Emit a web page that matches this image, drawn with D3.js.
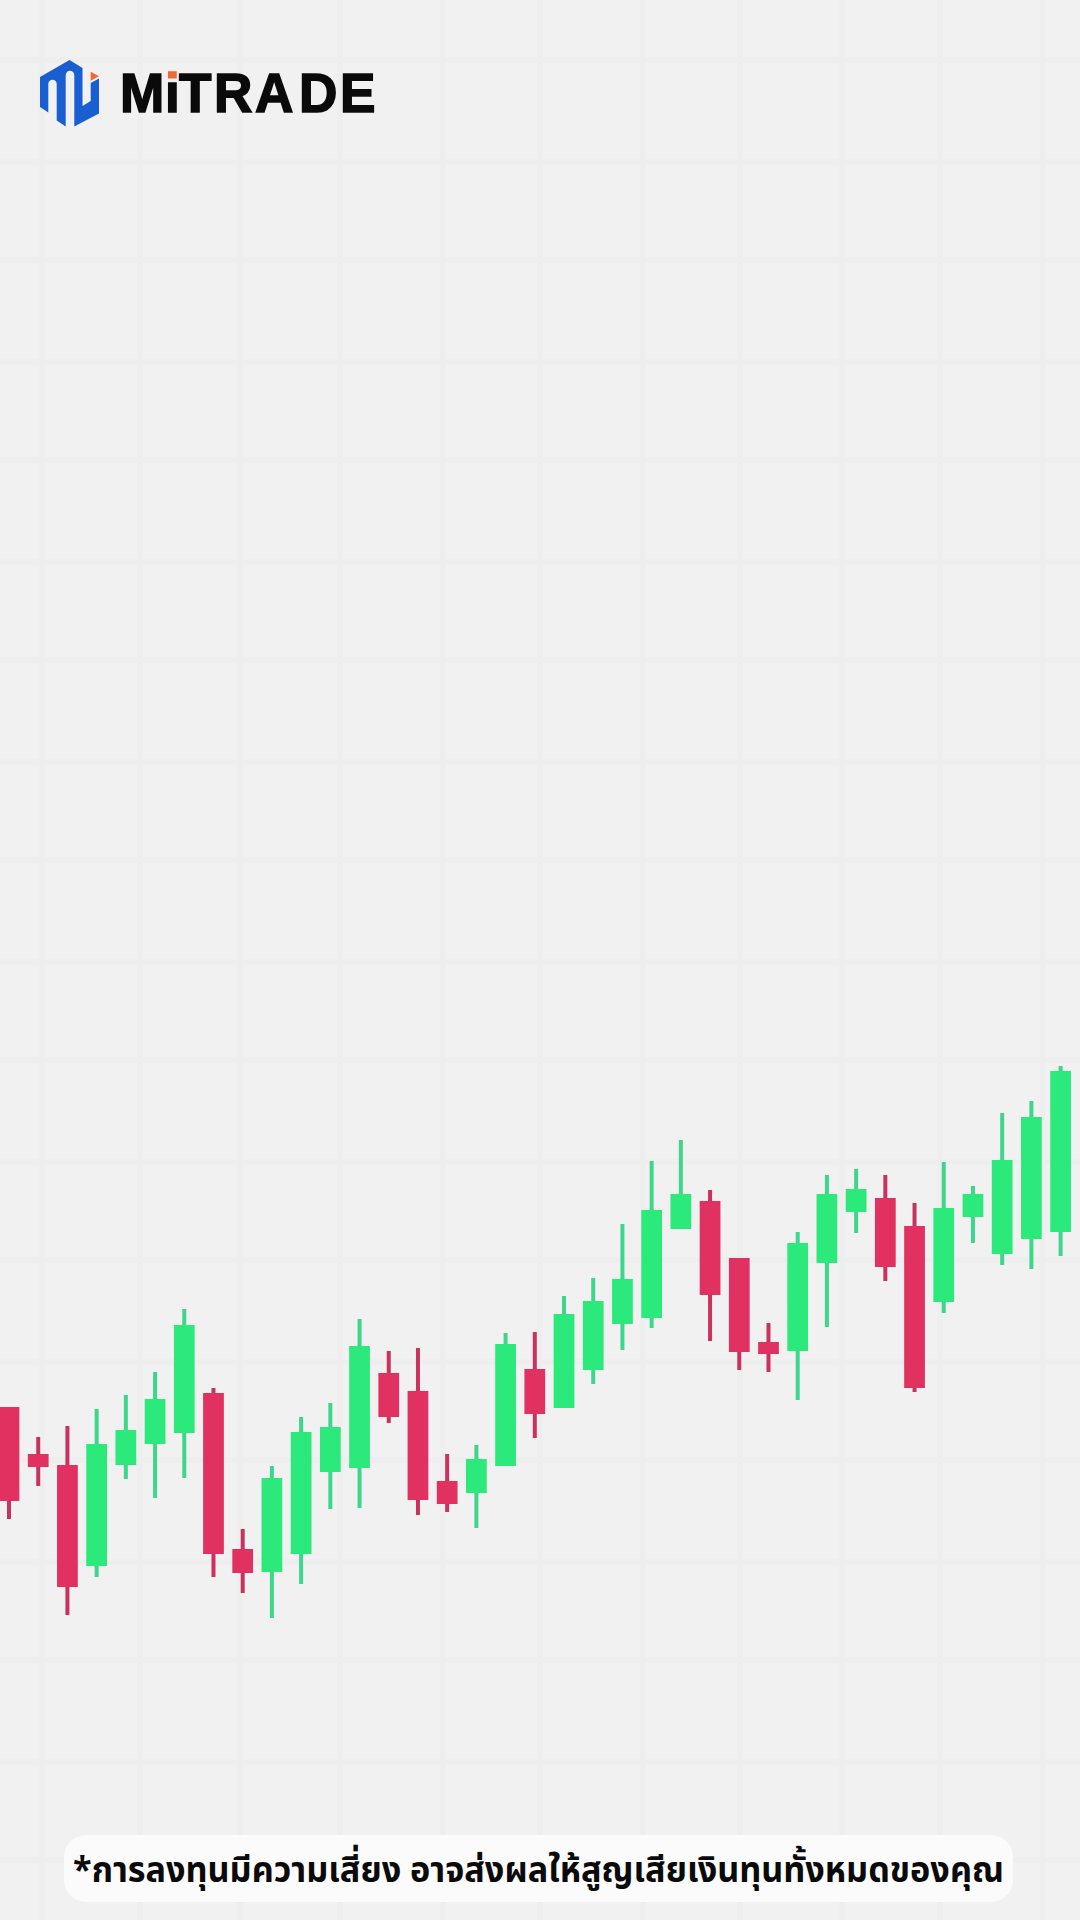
<!DOCTYPE html>
<html lang="th">
<head>
<meta charset="utf-8">
<title>Mitrade candlesticks</title>
<script src="https://cdn.jsdelivr.net/npm/d3@7"></script>
<style>
  html, body { margin: 0; padding: 0; background: #f1f1f1; }
  svg { display: block; }
</style>
</head>
<body>
<div id="chart-container"></div>
<script>
// prices have no axis in the picture, so they are read as height above the bottom edge
const opens  = [513,466,455,354,455,476,487,527,371,348,366,448,452,547,529,439,427,454,551,512,550,596,602,691,719,662,578,569,657,708,722,694,618,703,666,681,688];
const closes = [419,453,333,476,490,521,595,366,347,442,488,493,574,503,420,416,461,576,506,606,619,641,710,726,625,568,566,677,726,731,653,532,712,726,760,803,849];
const highs  = [513,483,494,511,525,548,611,532,391,454,503,517,601,569,572,466,475,587,588,624,642,696,759,780,730,662,597,688,745,751,745,717,758,734,807,819,854];
const lows   = [401,434,305,343,441,422,442,343,327,302,336,411,412,497,405,408,392,454,482,512,536,570,592,691,579,550,548,520,593,687,639,528,607,677,655,651,664];

const gridXs = [42,140,240,340,443,540,643,740,842,940,1043];
const gridYs = [60,162,260,362,460,562,660,762,860,962,1060,1162,1260,1362,1460,1562,1660,1762,1860];

const logoLetterXs = [120,165,179,214,255,299,340];
const disclaimer = '*การลงทุนมีความเสี่ยง อาจส่งผลให้สูญเสียเงินทุนทั้งหมดของคุณ';

const width = 1080;
const height = 1920;

const upColor = '#2ce97b';
const downColor = '#e13160';
const upWick = '#3dd78b';
const downWick = '#c9315f';

const svg = d3.select('#chart-container')
  .append('svg')
  .attr('width', width)
  .attr('height', height);

svg.append('rect')
  .attr('width', width)
  .attr('height', height)
  .attr('fill', '#f1f1f1');

// background grid
const grid = svg.append('g')
  .attr('stroke', '#eeeeee')
  .attr('stroke-width', 5);

grid.selectAll('.v')
  .data(gridXs)
  .enter()
  .append('line')
  .attr('class', 'v')
  .attr('x1', d => d)
  .attr('x2', d => d)
  .attr('y1', 0)
  .attr('y2', height);

grid.selectAll('.h')
  .data(gridYs)
  .enter()
  .append('line')
  .attr('class', 'h')
  .attr('x1', 0)
  .attr('x2', width)
  .attr('y1', d => d)
  .attr('y2', d => d);

// scales
const x = d3.scaleBand()
  .domain(d3.range(opens.length))
  .range([-5.6, 1075.2])
  .paddingInner(0.29)
  .paddingOuter(0.145);

const y = d3.scaleLinear()
  .domain([0, height])
  .range([height, 0]);

const candles = svg.selectAll('.candle')
  .data(opens.map((open, i) => ({ i, open, close: closes[i], high: highs[i], low: lows[i] })))
  .enter()
  .append('g')
  .attr('class', 'candle');

candles.append('line')
  .attr('x1', d => x(d.i) + x.bandwidth() / 2)
  .attr('x2', d => x(d.i) + x.bandwidth() / 2)
  .attr('y1', d => y(d.high))
  .attr('y2', d => y(d.low))
  .attr('stroke', d => d.close > d.open ? upWick : downWick)
  .attr('stroke-width', 4);

candles.append('rect')
  .attr('x', d => x(d.i))
  .attr('width', x.bandwidth())
  .attr('y', d => y(Math.max(d.open, d.close)))
  .attr('height', d => Math.abs(y(d.open) - y(d.close)))
  .attr('fill', d => d.close > d.open ? upColor : downColor);

// logo
const logo = svg.append('g');

logo.append('path')
  .attr('d', 'M40,77 L69.5,60 L82.5,68 L82.5,106 L90.7,101 L90.7,83 L99,78.5 L99,113.5 L74.3,126.5 L74.3,75 A4.3,4.3 0 0 0 65.7,75 L65.7,126.5 L56.7,120.5 L56.7,84 A4.2,4.2 0 0 0 48.3,84 L48.3,112.5 L40,107 Z')
  .attr('fill', '#1a5fd2');

logo.append('path')
  .attr('d', 'M90.7,71.7 L99,76.3 L90.7,80.7 Z')
  .attr('fill', '#ee6a32');

// hard stop so the dot of the i comes out orange and the stem black
const dotFill = svg.append('defs')
  .append('linearGradient')
  .attr('id', 'dotFill')
  .attr('gradientUnits', 'userSpaceOnUse')
  .attr('x1', 0).attr('x2', 0)
  .attr('y1', 60).attr('y2', 120);

dotFill.append('stop').attr('offset', 0.33).attr('stop-color', '#ee6a32');
dotFill.append('stop').attr('offset', 0.33).attr('stop-color', '#0a0a0a');

const logoScale = 0.95;
const logoText = logo.append('text')
  .attr('transform', `scale(${logoScale},1)`)
  .attr('x', logoLetterXs.map(d => d / logoScale).join(' '))
  .attr('y', 112.2)
  .attr('font-family', '"Liberation Sans", sans-serif')
  .attr('font-weight', 700)
  .attr('font-size', 56)
  .attr('stroke-width', 1.6)
  .attr('fill', '#0a0a0a')
  .attr('stroke', '#0a0a0a');

logoText.append('tspan').text('M');
logoText.append('tspan').attr('fill', 'url(#dotFill)').attr('stroke', 'url(#dotFill)').text('i');
logoText.append('tspan').text('TRADE');

// disclaimer banner
svg.append('rect')
  .attr('x', 64)
  .attr('y', 1835)
  .attr('width', 949)
  .attr('height', 67)
  .attr('rx', 22)
  .attr('fill', '#fbfbfb');

svg.append('text')
  .attr('x', 73)
  .attr('y', 1882)
  .attr('font-family', '"Noto Sans Thai", "Noto Sans", "DejaVu Sans", sans-serif')
  .attr('font-weight', 700)
  .attr('font-size', 36)
  .attr('textLength', 931)
  .attr('lengthAdjust', 'spacingAndGlyphs')
  .attr('fill', '#0a0a0a')
  .text(disclaimer);
</script>
</body>
</html>
